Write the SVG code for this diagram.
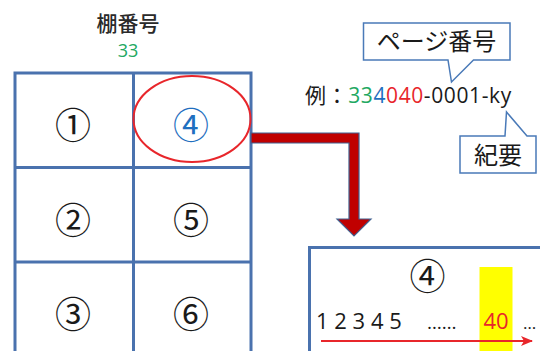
<svg xmlns="http://www.w3.org/2000/svg" width="540" height="351" viewBox="0 0 540 351">
<style>
.grid{fill:none;stroke:#4a72ae;stroke-width:3}
.cn{font-family:"Noto Sans CJK JP","Noto Sans",sans-serif;font-size:36px;text-anchor:middle;dominant-baseline:central;fill:#1a1a1a}
.lat{font-family:"Open Sans","Noto Sans CJK JP",sans-serif}
.jp{font-family:"Noto Sans CJK JP",sans-serif}
.callout{fill:#ffffff;stroke:#4a7ab8;stroke-width:1.5;stroke-linejoin:miter}
</style>
<defs>
<marker id="redhead" markerWidth="12" markerHeight="10" refX="11" refY="5" orient="auto" markerUnits="userSpaceOnUse">
<path d="M0,0 L12,5 L0,10 L3,5 Z" fill="#e8262b"/>
</marker>
</defs>
<rect width="540" height="351" fill="#ffffff"/>

<g id="title">
<text x="128" y="31" class="jp" font-size="21" font-weight="500" text-anchor="middle" fill="#2a2a2a">棚番号</text>
<text x="128" y="56.5" class="lat" font-size="18" text-anchor="middle" fill="#22a862">33</text>
</g>

<g id="shelf-grid">
<rect x="15" y="73" width="236" height="300" class="grid"/>
<line x1="133.5" y1="73" x2="133.5" y2="360" class="grid"/>
<line x1="15" y1="167.5" x2="251" y2="167.5" class="grid"/>
<line x1="15" y1="262" x2="251" y2="262" class="grid"/>
</g>
<g id="cell1"><text x="73" y="123" class="cn">①</text></g>
<g id="cell2"><text x="73" y="218" class="cn">②</text></g>
<g id="cell3"><text x="73" y="312" class="cn">③</text></g>
<g id="cell4">
<text x="191" y="123" class="cn" style="fill:#1f6fc0">④</text>
<ellipse cx="192" cy="119" rx="58.5" ry="43" fill="none" stroke="#e8262b" stroke-width="2"/>
</g>
<g id="cell5"><text x="191" y="218" class="cn">⑤</text></g>
<g id="cell6"><text x="191" y="312" class="cn">⑥</text></g>

<g id="example">
<text x="305" y="103" class="lat" font-size="21" fill="#1a1a1a" letter-spacing="0.6">例：<tspan fill="#22a862">33</tspan><tspan fill="#1f6fc0">4</tspan><tspan fill="#e8262b">040</tspan>-0001-ky</text>
</g>

<g id="callout-page">
<path d="M363.5,23 L510,23 L510,60 L473.5,60 L451.5,82 L448,60 L363.5,60 Z" class="callout"/>
<text x="436.5" y="50" class="jp" font-size="24" text-anchor="middle" fill="#1a1a1a">ページ番号</text>
</g>

<g id="callout-kiyo">
<path d="M460,136 L505,136 L506.5,112 L527,136 L536,136 L536,173 L460,173 Z" class="callout"/>
<text x="498" y="164" class="jp" font-size="24" text-anchor="middle" fill="#1a1a1a">紀要</text>
</g>

<g id="connectors">
<path d="M251,133 L359,133 L359,219 L371,219 L354,236 L337,219 L349,219 L349,143 L251,143 Z" fill="#c00000" stroke="#41608f" stroke-width="1.2" stroke-linejoin="miter"/>
</g>

<g id="page-box">
<rect x="309.5" y="247.5" width="260" height="130" fill="#ffffff" stroke="#4a72ae" stroke-width="3"/>
<rect x="479.5" y="267" width="33" height="100" fill="#ffff00"/>
<text x="427.5" y="274" class="cn">④</text>
<text x="316" y="329" class="lat" font-size="22" fill="#1a1a1a">1 2 3 4 5</text>
<text x="427" y="329" class="lat" font-size="19" fill="#1a1a1a">……</text>
<text x="496" y="329" class="lat" font-size="22" text-anchor="middle" fill="#e8262b">40</text>
<text x="523" y="329" class="lat" font-size="17" fill="#1a1a1a">…</text>
<line x1="321" y1="341" x2="532" y2="341" stroke="#e8262b" stroke-width="2" marker-end="url(#redhead)"/>
</g>
</svg>
